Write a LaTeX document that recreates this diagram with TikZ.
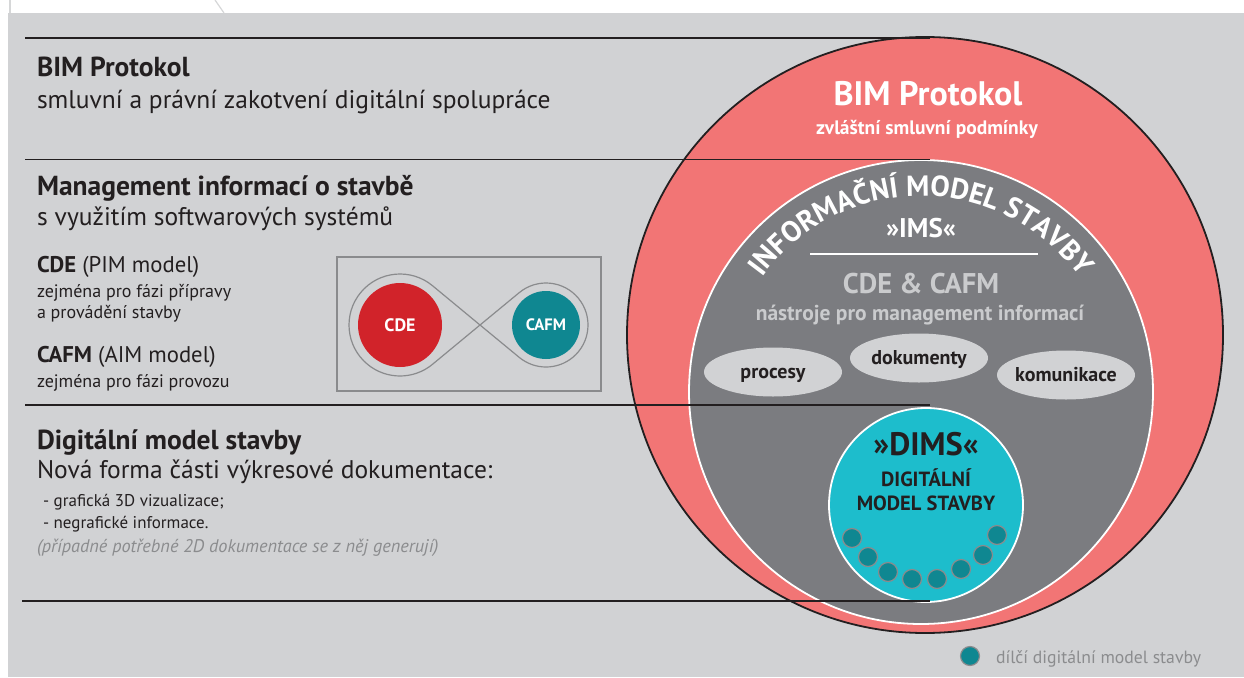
\documentclass[tikz,border=0pt]{standalone}
\usepackage{fontspec}
\setmainfont{PT Sans}
\usetikzlibrary{decorations.text,shapes.geometric,calc}
\definecolor{panel}{HTML}{D1D2D4}
\definecolor{salmon}{HTML}{F27575}
\definecolor{imsgrey}{HTML}{7B7C80}
\definecolor{dimscyan}{HTML}{1DBDCC}
\definecolor{dimsteal}{HTML}{0F8791}
\definecolor{cdered}{HTML}{D1232A}
\definecolor{ink}{HTML}{231F20}
\definecolor{softgrey}{HTML}{CACBCD}
\definecolor{notegrey}{HTML}{8B8C8E}
\definecolor{framegrey}{HTML}{8A8B8D}
\definecolor{pagefaint}{HTML}{D6D7D8}
\newcommand{\fsz}[1]{\fontsize{#1}{#1}\selectfont}
\begin{document}
\begin{tikzpicture}[x=1pt,y=-1pt,
  every node/.style={inner sep=0pt, outer sep=0pt},
  rule/.style={draw=ink, line width=1.4pt},
  lefthead/.style={anchor=base west, text=ink, font=\fsz{27.5}\bfseries},
  leftsub/.style={anchor=base west, text=ink, font=\fsz{25.5}},
  leftitem/.style={anchor=base west, text=ink, font=\fsz{22.7}},
  leftsmall/.style={anchor=base west, text=ink, font=\fsz{18}},
  pill/.style={ellipse, fill=panel, minimum width=138pt, minimum height=49pt},
  pilltext/.style={anchor=base, text=ink, font=\fsz{20}\bfseries},
  subdims/.style={circle, fill=dimsteal, draw=framegrey, line width=1.2pt, minimum size=19pt},
  centred/.style={anchor=base},
]
\useasboundingbox (0,0) rectangle (1244,677);
% page and panel
\fill[white] (0,0) rectangle (1244,677);
\fill[panel] (8,13) rectangle (1244,677);
\draw[pagefaint, line width=1.2pt] (10,0) -- (10,13);
\draw[pagefaint, line width=1.2pt] (215,0) -- (224,13);

% nested circles
\node (bimring) [circle, fill=salmon, draw=ink, line width=1.8pt, minimum size=596pt] at (925,335) {};
\node (ims) [circle, fill=imsgrey, draw=white, line width=1.8pt, minimum size=464pt] at (921,392) {};

\node (rbim) [centred, text=white, font=\fsz{34}\bfseries] at (928,105) {BIM Protokol};
\node (rbimsub) [centred, text=white, font=\fsz{19.5}\bfseries] at (927,134) {zvláštní smluvní podmínky};

\path[decorate, decoration={text along path, text align=center,
    text={|\fsz{29}\bfseries\color{white}|INFORMAČNÍ MODEL STAVBY}}]
  (ims.center) ++(-160:196) arc[start angle=-160, end angle=-20, radius=196];

\node (imsabbr) [centred, text=white, font=\fsz{27}\bfseries] at (921,237) {»IMS«};
\coordinate (sepl) at (810,254);
\coordinate (sepr) at (1038,254);
\draw[white, line width=1.2pt] (sepl) -- (sepr);
\node (tools) [centred, text=softgrey, font=\fsz{28.5}\bfseries] at (921,293) {CDE \& CAFM};
\node (toolsub) [centred, text=softgrey, font=\fsz{21.5}\bfseries] at (920,320) {nástroje pro management informací};

\node (procesy) [pill] at (773,372) {};
\node [pilltext] at (procesy.center) [yshift=-6.5pt] {procesy};
\node (dokumenty) [pill] at (919,358) {};
\node [pilltext] at (dokumenty.center) [yshift=-6.5pt] {dokumenty};
\node (komunikace) [pill] at (1066,375) {};
\node [pilltext] at (komunikace.center) [yshift=-6.5pt] {komunikace};

% digital model of the building
\node (dims) [circle, fill=dimscyan, draw=white, line width=1.8pt, minimum size=194pt] at (926,505) {};
\node (dimsabbr) [centred, text=ink, font=\fsz{32.5}\bfseries] at (926,455) {»DIMS«};
\node (dimsa) [centred, text=ink, font=\fsz{20.5}\bfseries] at (926,486) {DIGITÁLNÍ};
\node (dimsb) [centred, text=ink, font=\fsz{20.5}\bfseries] at (926,510) {MODEL STAVBY};
\foreach \px/\py [count=\i] in {852/538, 868/557, 888/572, 912/579, 937/579, 961/569, 983/555, 997/535}
  \node (sub\i) [subdims] at (\px,\py) {};

% left column texts
\node (h1) [lefthead] at (37,77) {BIM Protokol};
\node (s1) [leftsub] at (37,108) {smluvní a právní zakotvení digitální spolupráce};
\node (h2) [lefthead] at (37,195) {Management informací o stavbě};
\node (s2) [leftsub] at (37,225) {s využitím softwarových systémů};
\node (cdeline) [leftitem] at (37,272) {\textbf{CDE} (PIM model)};
\node (cdea) [leftsmall] at (37,297) {zejména pro fázi přípravy};
\node (cdeb) [leftsmall] at (37,318) {a provádění stavby};
\node (cafmline) [leftitem] at (37,362) {\textbf{CAFM} (AIM model)};
\node (cafma) [leftsmall] at (37,387) {zejména pro fázi provozu};
\node (h3) [lefthead] at (37,449) {Digitální model stavby};
\node (s3) [leftsub] at (37,478) {Nová forma části výkresové dokumentace:};
\node (b1) [leftsmall, font=\fsz{17}] at (43,506) {- grafická 3D vizualizace;};
\node (b2) [leftsmall, font=\fsz{17}] at (43,528) {- negrafické informace.};
\node (note) [leftsmall, text=notegrey, font=\fsz{18.3}\itshape] at (37,552) {(případné potřebné 2D dokumentace se z něj generují)};

% CDE / CAFM cycle
\node (infbox) [draw=framegrey, line width=1.3pt, minimum width=264pt, minimum height=134pt] at (469,324) {};
\node (cde) [circle, fill=cdered, minimum size=84pt, text=white, font=\fsz{18}\bfseries] at (400,325) {CDE};
\node (cafm) [circle, fill=dimsteal, minimum size=68pt, text=white, font=\fsz{16.5}\bfseries] at (546,325) {CAFM};
\coordinate (cross) at (480,325);
\draw[framegrey, line width=1.2pt, line join=round]
  (cross) -- ($(cde)+(-50.4:51)$) arc[start angle=-50.4, end angle=-309.6, radius=51]
  -- (cross) -- ($(cafm)+(230.5:42)$) arc[start angle=230.5, end angle=489.5, radius=42] -- cycle;

% section rules
\coordinate (r1a) at (25,38);   \coordinate (r1b) at (930,38);
\coordinate (r2a) at (25,159.5);\coordinate (r2b) at (930,159.5);
\coordinate (r3a) at (25,405);  \coordinate (r3b) at (930,405);
\coordinate (r4a) at (22,601);  \coordinate (r4b) at (930,601);
\draw[rule] (r1a) -- (r1b);
\draw[rule] (r2a) -- (r2b);
\draw[rule] (r3a) -- (r3b);
\draw[rule] (r4a) -- (r4b);

% legend
\node (legdot) [subdims] at (970,656) {};
\node (legtext) [anchor=base west, text=notegrey, font=\fsz{17.7}] at (996,663) {dílčí digitální model stavby};
\end{tikzpicture}
\end{document}
